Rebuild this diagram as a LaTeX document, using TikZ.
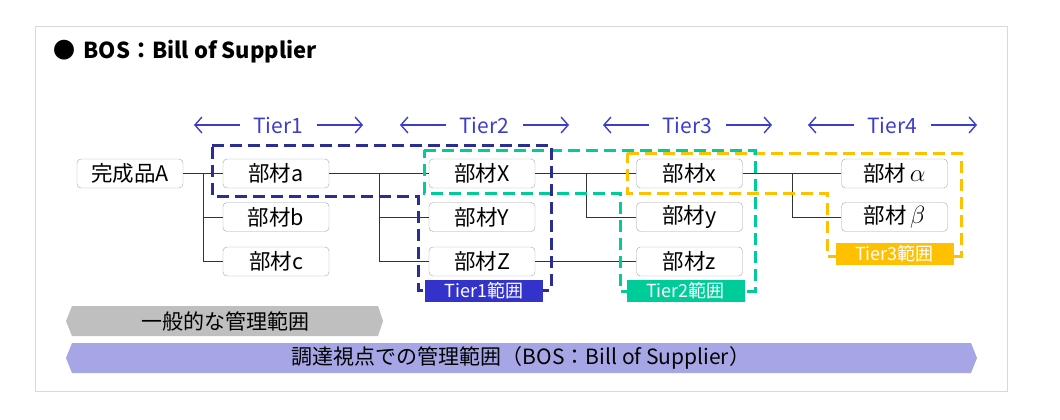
\documentclass[tikz,border=0pt]{standalone}
\usepackage{fontspec}
\setmainfont{Noto Sans CJK JP}
\usetikzlibrary{arrows.meta}

\definecolor{tierblue}{RGB}{60,60,205}
\definecolor{partgray}{RGB}{165,165,165}
\definecolor{navyline}{RGB}{43,46,145}
\definecolor{navylabel}{RGB}{51,51,204}
\definecolor{tealc}{RGB}{0,204,153}
\definecolor{amber}{RGB}{255,192,0}
\definecolor{bandgray}{RGB}{191,191,191}
\definecolor{bandpurple}{RGB}{166,166,230}
\definecolor{framegray}{RGB}{217,217,217}

\newcommand{\grk}[1]{{\fontsize{25}{25}\selectfont$#1$}}

\begin{document}
\begin{tikzpicture}[x=1pt,y=-1pt,
  part/.style={draw=partgray, rounded corners=4pt, fill=white, minimum width=106pt,
    minimum height=29pt, inner sep=0pt, font=\fontsize{21.5}{23}\selectfont},
  link/.style={line width=1pt, black!80},
  tier/.style={text=tierblue, font=\fontsize{21}{23}\selectfont},
  tierarrow/.style={tierblue, line width=1.4pt, -{Straight Barb[length=7pt,width=16pt]}},
  scopeline/.style={dash pattern=on 12pt off 6pt, line width=3pt},
  scopelabel/.style={text=white, minimum width=118pt, minimum height=22pt, inner sep=0pt,
    font=\fontsize{18}{19}\selectfont},
  band/.style={font=\fontsize{21}{23}\selectfont}]
  \useasboundingbox (0,0) rectangle (1060,420);
  \draw[framegray, line width=1pt] (35,27) rectangle (1007,391);

  % title
  \node[anchor=west, font=\fontsize{22}{24}\selectfont\bfseries] (title) at (50,52)
    {●\hspace{8pt}BOS：Bill of Supplier};

  % tiers
  \foreach \n/\x in {1/278,2/484,3/687,4/892}{%
    \node[tier] (tier\n) at (\x,125) {Tier\n};
    \draw[tierarrow] ([xshift=-38pt]tier\n.center) -- ++(-46,0);
    \draw[tierarrow] ([xshift=39pt]tier\n.center) -- ++(46,0);
  }

  % parts
  \node[part] (pA) at (130,173.5) {完成品A};
  \node[part] (pa) at (276,173.5) {部材a};
  \node[part] (pb) at (276,217) {部材b};
  \node[part] (pc) at (276,261.5) {部材c};
  \node[part] (pX) at (482,173.5) {部材X};
  \node[part] (pY) at (482,217) {部材Y};
  \node[part] (pZ) at (482,261.5) {部材Z};
  \node[part] (px) at (689.5,173.5) {部材x};
  \node[part] (py) at (689.5,217) {部材y};
  \node[part] (pz) at (689.5,261.5) {部材z};
  \node[part] (palpha) at (894.5,173.5) {部材\,\grk{\alpha}};
  \node[part] (pbeta) at (894.5,217) {部材\,\grk{\beta}};

  \coordinate (j1) at (203,173.5);
  \coordinate (j2) at (379,173.5);
  \coordinate (j3) at (586,173.5);
  \coordinate (j4) at (792,173.5);

  \draw[link] (pA) -- (pa);
  \draw[link] (j1) |- (pb);
  \draw[link] (j1) |- (pc);
  \draw[link] (pa) -- (pX);
  \draw[link] (j2) |- (pY);
  \draw[link] (j2) |- (pZ);
  \draw[link] (pX) -- (px);
  \draw[link] (j3) |- (py);
  \draw[link] (pZ) -- (pz);
  \draw[link] (px) -- (palpha);
  \draw[link] (j4) |- (pbeta);

  % scopes
  \draw[scopeline, amber] (627,153) -- (961,153) -- (961,256) -- (827,256) -- (827,193)
    -- (627,193) -- cycle;
  \draw[scopeline, tealc] (424,150) -- (755,150) -- (755,291) -- (620,291) -- (620,193)
    -- (424,193) -- cycle;
  \draw[scopeline, navyline] (212,145) -- (551,145) -- (551,290) -- (418,290) -- (418,196)
    -- (212,196) -- cycle;
  \node[scopelabel, fill=navylabel] (s1) at (484,290.5) {Tier1範囲};
  \node[scopelabel, fill=tealc] (s2) at (685.5,290.5) {Tier2範囲};
  \node[scopelabel, fill=amber] (s3) at (894.5,253.5) {Tier3範囲};

  % bands
  \fill[bandgray] (66,321) -- (72,306) -- (378,306) -- (383,321) -- (378,336) -- (72,336) -- cycle;
  \node[band] (general) at (225,321) {一般的な管理範囲};
  \fill[bandpurple] (66,358) -- (72,343) -- (971,343) -- (977,358) -- (971,373) -- (72,373) -- cycle;
  \node[band] (bos) at (521,358) {調達視点での管理範囲（BOS：Bill of Supplier）};
\end{tikzpicture}
\end{document}
